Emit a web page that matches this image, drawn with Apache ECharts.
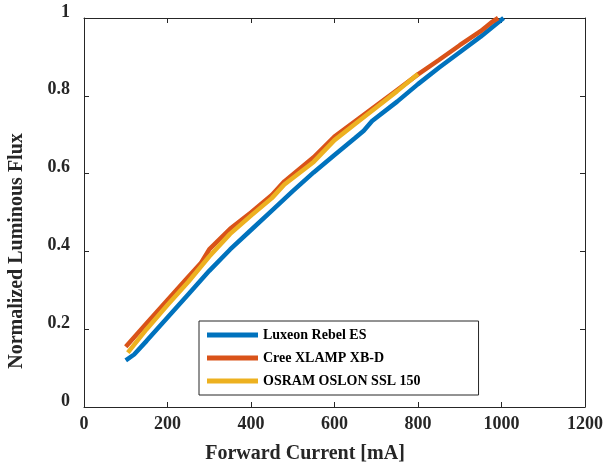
<!DOCTYPE html>
<html>
<head>
<meta charset="UTF-8">
<title>Normalized Luminous Flux</title>
<script src="https://cdn.jsdelivr.net/npm/echarts@6/dist/echarts.min.js"></script>
<style>
  html, body { margin: 0; padding: 0; background: #fff; }
  #chart { width: 606px; height: 468px; }
</style>
</head>
<body>
<div id="chart"></div>
<script>
// values
var luxeonX = [100, 120, 150, 200, 250, 300, 350, 400, 450, 500, 550, 600, 650, 670, 690, 750, 800, 850, 900, 950, 1005];
var luxeonY = [0.12, 0.135, 0.17, 0.23, 0.29, 0.35, 0.405, 0.455, 0.505, 0.555, 0.603, 0.648, 0.692, 0.71, 0.735, 0.785, 0.83, 0.872, 0.912, 0.952, 1.0];

var creeX = [100, 150, 200, 250, 280, 300, 350, 400, 450, 480, 550, 600, 650, 700, 750, 800, 850, 900, 950, 975, 992];
var creeY = [0.155, 0.215, 0.275, 0.335, 0.37, 0.405, 0.458, 0.5, 0.545, 0.58, 0.642, 0.695, 0.735, 0.775, 0.815, 0.855, 0.892, 0.93, 0.966, 0.988, 1.0];

var osramX = [105, 150, 200, 250, 300, 350, 400, 450, 480, 550, 600, 650, 700, 750, 800];
var osramY = [0.14, 0.2, 0.262, 0.322, 0.387, 0.445, 0.492, 0.537, 0.572, 0.63, 0.686, 0.728, 0.77, 0.812, 0.856];

var seriesNames = ['Luxeon Rebel ES', 'Cree XLAMP XB-D', 'OSRAM OSLON SSL 150'];
var seriesColors = ['#0072BD', '#D95319', '#EDB120'];

var xTitle = 'Forward Current [mA]';
var yTitle = 'Normalized Luminous Flux';

function pairs(xs, ys) {
    return xs.map(function (x, i) { return [x, ys[i]]; });
}

var fontFamily = '"Liberation Serif", "Times New Roman", serif';
var axisColor = '#262626';

function makeAxis(extra) {
    var base = {
        type: 'value',
        axisLine: { show: true, onZero: false, lineStyle: { color: axisColor, width: 1 } },
        axisTick: { show: true, inside: true, length: 5, lineStyle: { color: axisColor } },
        splitLine: { show: false },
        axisLabel: { show: false }
    };
    return Object.assign(base, extra);
}

var chart = echarts.init(document.getElementById('chart'));
chart.setOption({
    animation: false,
    backgroundColor: '#fff',
    grid: { left: 84, right: 11, top: 18, bottom: 61 },
    legend: {
        orient: 'vertical',
        left: 199,
        top: 321,
        padding: [6, 58, 6, 8],
        itemGap: 7,
        itemWidth: 51,
        itemHeight: 5,
        icon: 'rect',
        borderColor: axisColor,
        borderWidth: 1,
        backgroundColor: '#fff',
        data: seriesNames,
        textStyle: { fontFamily: fontFamily, fontWeight: 'bold', fontSize: 14, color: '#000', lineHeight: 16 }
    },
    graphic: [
        {
            type: 'text', x: 305, y: 454,
            style: { text: xTitle, fontFamily: fontFamily, fontWeight: 'bold', fontSize: 20, fill: axisColor, align: 'center', verticalAlign: 'middle' }
        },
        {
            type: 'text', x: 17, y: 251, rotation: Math.PI / 2,
            style: { text: yTitle, fontFamily: fontFamily, fontWeight: 'bold', fontSize: 20, fill: axisColor, align: 'center', verticalAlign: 'middle' }
        }
    ],
    xAxis: [
        makeAxis({
            min: 0, max: 1200, interval: 200, position: 'bottom',
            axisLabel: {
                show: true, margin: 8, fontFamily: fontFamily, fontWeight: 'bold', fontSize: 18, color: axisColor,
                formatter: function (v) { return String(v); }
            }
        }),
        makeAxis({ min: 0, max: 1200, interval: 200, position: 'top' })
    ],
    yAxis: [
        makeAxis({
            min: 0, max: 1, interval: 0.2, position: 'left',
            axisLabel: {
                show: true, margin: 14, verticalAlign: 'bottom', lineHeight: 12,
                fontFamily: fontFamily, fontWeight: 'bold', fontSize: 18, color: axisColor,
                formatter: function (v) { return String(+v.toFixed(1)); }
            }
        }),
        makeAxis({ min: 0, max: 1, interval: 0.2, position: 'right' })
    ],
    series: [
        { name: seriesNames[0], data: pairs(luxeonX, luxeonY) },
        { name: seriesNames[1], data: pairs(creeX, creeY) },
        { name: seriesNames[2], data: pairs(osramX, osramY) }
    ].map(function (s, i) {
        return {
            name: s.name,
            type: 'line',
            xAxisIndex: 0,
            yAxisIndex: 0,
            data: s.data,
            symbol: 'none',
            color: seriesColors[i],
            lineStyle: { width: 4.5, color: seriesColors[i] }
        };
    })
});
</script>
</body>
</html>
